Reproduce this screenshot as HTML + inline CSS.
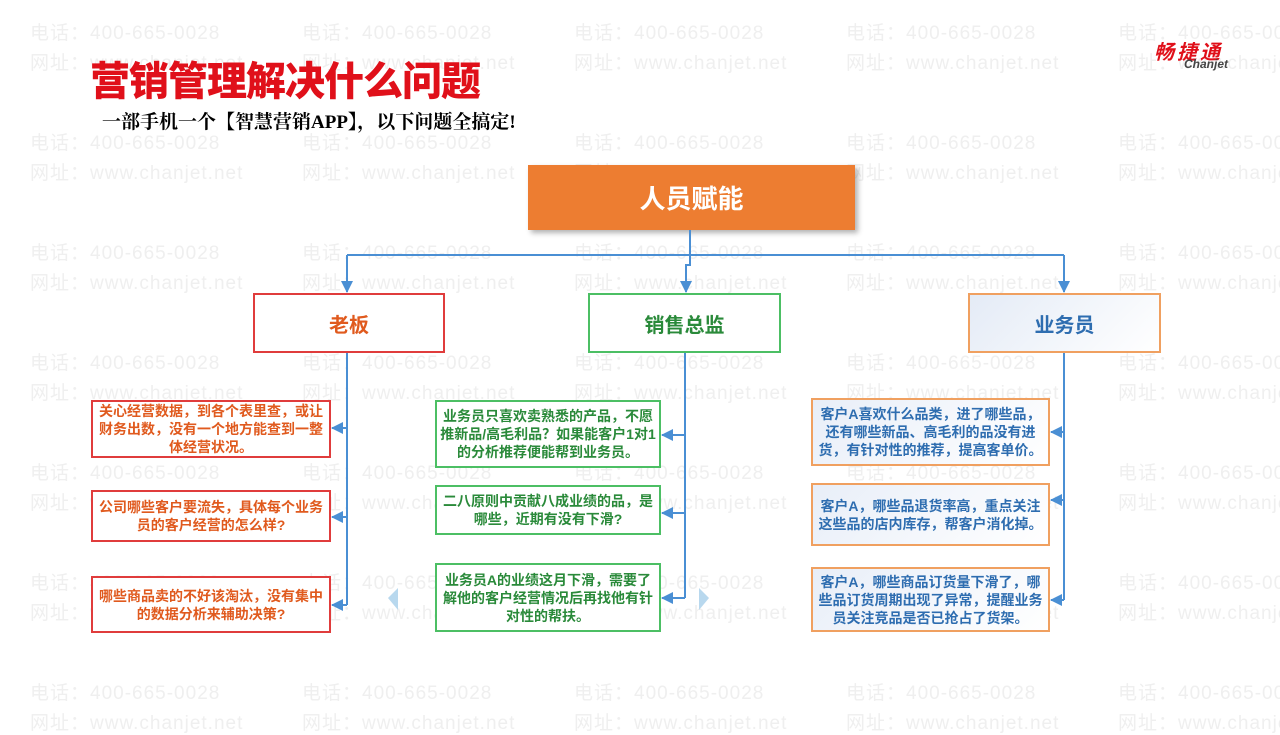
<!DOCTYPE html>
<html><head><meta charset="utf-8">
<style>
*{margin:0;padding:0;box-sizing:border-box}
body{width:1280px;height:720px;position:relative;background:#fff;overflow:hidden;font-family:"Liberation Sans","Noto Sans CJK SC",sans-serif}
.wm{position:absolute;color:#efefef;font-size:19px;font-weight:normal;white-space:nowrap;letter-spacing:1px}
.b{position:absolute;display:flex;align-items:center;justify-content:center;text-align:center;font-weight:bold}
.t{font-size:14px;line-height:18px;padding:0 3px}
</style></head><body>
<div id="wms"></div>
<script>
(function(){var h='';var xs=[30,302,574,846,1118];for(var r=0;r<7;r++){var y=18+r*110;for(var i=0;i<5;i++){h+='<div class="wm" style="left:'+xs[i]+'px;top:'+y+'px">电话：400-665-0028</div><div class="wm" style="left:'+xs[i]+'px;top:'+(y+30)+'px">网址：www.chanjet.net</div>';}}document.getElementById('wms').innerHTML=h;})();
</script>
<div style="position:absolute;left:90px;top:60px;font-size:40px;line-height:44px;font-weight:900;color:#e0101a;letter-spacing:-1px">营销管理解决什么问题</div>
<div style="position:absolute;left:102px;top:107px;font-size:19px;font-weight:bold;color:#000;font-family:'Liberation Serif','Noto Serif CJK SC',serif">一部手机一个【智慧营销APP】，以下问题全搞定!</div>
<div style="position:absolute;left:1154px;top:36px;font-size:20px;font-weight:bold;font-style:italic;color:#e0101a;letter-spacing:3px">畅捷通</div>
<div style="position:absolute;left:1184px;top:57px;font-size:12px;font-weight:bold;font-style:italic;color:#444">Chanjet</div>

<div class="b" style="left:528px;top:165px;width:327px;height:65px;background:#ed7d31;color:#fff;font-size:26px;box-shadow:3px 3px 5px rgba(0,0,0,.3)">人员赋能</div>

<svg style="position:absolute;left:0;top:0" width="1280" height="720">
<defs><marker id="a" markerWidth="12" markerHeight="12" refX="11" refY="6" orient="auto" markerUnits="userSpaceOnUse"><path d="M0,0L12,6L0,12z" fill="#4a8fd4"/></marker></defs>
<g stroke="#4a8fd4" stroke-width="2" fill="none">
<path d="M690 230V255M347 255H1064"/>
<path d="M690 255V265L686 265V292" marker-end="url(#a)"/>
<path d="M347 255V292" marker-end="url(#a)"/>
<path d="M1064 255V292" marker-end="url(#a)"/>
<path d="M347 353V605"/><path d="M685 353V598"/><path d="M1064 353V600"/>
<path d="M347 428H332" marker-end="url(#a)"/><path d="M347 517H332" marker-end="url(#a)"/><path d="M347 605H332" marker-end="url(#a)"/>
<path d="M685 435H662" marker-end="url(#a)"/><path d="M685 513H662" marker-end="url(#a)"/><path d="M685 598H662" marker-end="url(#a)"/>
<path d="M1064 432H1051" marker-end="url(#a)"/><path d="M1064 500H1051" marker-end="url(#a)"/><path d="M1064 600H1051" marker-end="url(#a)"/>
</g>
<path d="M398 588L388 598L398 610z" fill="#b8d8ee"/>
<path d="M699 588L709 598L699 610z" fill="#b8d8ee"/>
</svg>

<div class="b" style="left:253px;top:293px;width:192px;height:60px;border:2px solid #e03c3c;color:#e05a1e;font-size:20px;background:#fff">老板</div>
<div class="b" style="left:588px;top:293px;width:193px;height:60px;border:2px solid #4cbf64;color:#2a8a3a;font-size:20px;background:#fff">销售总监</div>
<div class="b" style="left:968px;top:293px;width:193px;height:60px;border:2px solid #f0a060;color:#2e6db0;font-size:20px;background:linear-gradient(135deg,#e4ebf6,#fff)">业务员</div>

<div class="b t" style="left:91px;top:400px;width:240px;height:58px;border:2px solid #e03c3c;color:#e05a1e;background:#fff">关心经营数据，到各个表里查，或让财务出数，没有一个地方能查到一整体经营状况。</div>
<div class="b t" style="left:91px;top:490px;width:240px;height:52px;border:2px solid #e03c3c;color:#e05a1e;background:#fff">公司哪些客户要流失，具体每个业务员的客户经营的怎么样?</div>
<div class="b t" style="left:91px;top:576px;width:240px;height:57px;border:2px solid #e03c3c;color:#e05a1e;background:#fff">哪些商品卖的不好该淘汰，没有集中的数据分析来辅助决策?</div>

<div class="b t" style="left:435px;top:400px;width:226px;height:68px;border:2px solid #4cbf64;color:#2a8a3a;background:#fff">业务员只喜欢卖熟悉的产品，不愿推新品/高毛利品？如果能客户1对1的分析推荐便能帮到业务员。</div>
<div class="b t" style="left:435px;top:485px;width:226px;height:50px;border:2px solid #4cbf64;color:#2a8a3a;background:#fff">二八原则中贡献八成业绩的品，是哪些，近期有没有下滑?</div>
<div class="b t" style="left:435px;top:563px;width:226px;height:69px;border:2px solid #4cbf64;color:#2a8a3a;background:#fff">业务员A的业绩这月下滑，需要了解他的客户经营情况后再找他有针对性的帮扶。</div>

<div class="b t" style="left:811px;top:398px;width:239px;height:68px;border:2px solid #f0a060;color:#2e6db0;background:linear-gradient(135deg,#e8eef8,#fff)">客户A喜欢什么品类，进了哪些品，还有哪些新品、高毛利的品没有进货，有针对性的推荐，提高客单价。</div>
<div class="b t" style="left:811px;top:483px;width:239px;height:63px;border:2px solid #f0a060;color:#2e6db0;background:linear-gradient(135deg,#e8eef8,#fff)">客户A，哪些品退货率高，重点关注这些品的店内库存，帮客户消化掉。</div>
<div class="b t" style="left:811px;top:567px;width:239px;height:65px;border:2px solid #f0a060;color:#2e6db0;background:linear-gradient(135deg,#e8eef8,#fff)">客户A，哪些商品订货量下滑了，哪些品订货周期出现了异常，提醒业务员关注竞品是否已抢占了货架。</div>
</body></html>
